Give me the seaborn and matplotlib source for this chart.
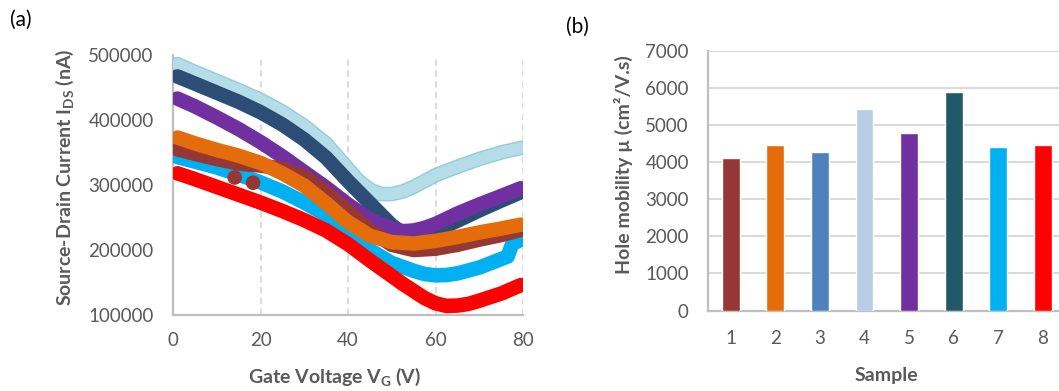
import matplotlib
matplotlib.use("Agg")
import matplotlib.pyplot as plt
import matplotlib.patheffects as pe
import pandas as pd
import seaborn as sns

# ---------------- data ----------------
# (a) transfer curves: gate voltage (V) vs source-drain current (nA)
gate_v = [1, 5, 10, 15, 20, 25, 30, 35, 40, 45, 50, 55, 60, 65, 70, 75, 79.5]

ids_s1 = [355000, 348000, 340000, 333000, 330000, 325000, 313000, 289000, 260000,
          230000, 208000, 200000, 202000, 208000, 216000, 223000, 231000]
ids_s2 = [373000, 364000, 354000, 345000, 334000, 318000, 299000, 272000, 243000,
          222000, 212000, 210000, 214000, 220000, 227000, 233000, 239000]

gate_v_s4 = [1, 5, 10, 15, 20, 25, 30, 35, 40, 42.5, 45, 47.5, 50, 52.5, 55,
             60, 65, 70, 75, 79.5]
ids_s4 = [486000, 474000, 460000, 446000, 431000, 413000, 391000, 364000, 325000,
          306000, 293000, 286000, 286000, 290000, 297000, 315000, 328000,
          340000, 350000, 357000]

gate_v_s56 = [1, 5, 10, 15, 20, 25, 30, 35, 40, 45, 50, 52.5, 55, 57.5, 60,
              65, 70, 75, 79.5]
ids_s5 = [433000, 421000, 404000, 386000, 366000, 344000, 320000, 296000, 270000,
          247000, 233000, 229000, 230000, 234000, 240000, 256000, 270000,
          283000, 295000]
ids_s6 = [467000, 456000, 442000, 428000, 412000, 393000, 370000, 342000, 306000,
          272000, 238000, 226000, 222000, 224000, 230000, 245000, 261000,
          276000, 289000]

gate_v_s7 = [1, 5, 10, 15, 20, 25, 30, 35, 40, 45, 50, 55, 57.5, 60, 62.5, 65,
             70, 76.5, 77.5, 79.5]
ids_s7 = [343000, 336000, 327000, 316000, 304000, 290000, 273000, 254000, 232000,
          200000, 180000, 168000, 163000, 161000, 161500, 164000, 173000,
          190000, 209000, 216000]

gate_v_s8 = [1, 5, 10, 15, 20, 25, 30, 35, 40, 45, 50, 52.5, 55, 57.5, 60, 62.5,
             65, 67.5, 70, 75, 79.5]
ids_s8 = [318000, 309000, 297000, 285000, 273000, 260000, 246000, 230000, 209000,
          184000, 160000, 148000, 137000, 126000, 118000, 114000, 114500,
          117000, 122000, 133000, 146000]

# two stray points of sample 1
stray_v_s1 = [14.1, 18.3]
stray_ids_s1 = [311500, 303500]

# (b) hole mobility per sample
samples = ["1", "2", "3", "4", "5", "6", "7", "8"]
mobility = [4095, 4445, 4260, 5415, 4770, 5875, 4395, 4445]

bar_colors = ["#953735", "#E46C0A", "#4F81BD", "#B9CDE5",
              "#7030A0", "#215968", "#00B0F0", "#FF0000"]

# ---------------- style ----------------
sns.set_style("white")
plt.rcParams["font.family"] = ["Lato", "DejaVu Sans"]
plt.rcParams["mathtext.fontset"] = "custom"
plt.rcParams["mathtext.rm"] = "Lato:bold"
plt.rcParams["mathtext.it"] = "Lato:bold"
plt.rcParams["mathtext.bf"] = "Lato:bold"

TXT = "#595959"
GRID = "#D9D9D9"
SPINE = "#BFBFBF"
W, H = 1059, 391
LW = 10.5

fig = plt.figure(figsize=(W / 100, H / 100), dpi=100)

# ---------------- (a) ----------------
axa = fig.add_axes([173 / W, 1 - 315 / H, 350 / W, 260 / H])

curves = [
    ("4", gate_v_s4, ids_s4, "#B4DDE8"),
    ("6", gate_v_s56, ids_s6, "#2C4D75"),
    ("5", gate_v_s56, ids_s5, "#7030A0"),
    ("7", gate_v_s7, ids_s7, "#00B0F0"),
    ("1", gate_v, ids_s1, "#953735"),
    ("2", gate_v, ids_s2, "#E46C0A"),
    ("8", gate_v_s8, ids_s8, "#FF0000"),
]

for k, (name, v, i, col) in enumerate(curves):
    df = pd.DataFrame({"V": v, "I": i})
    n_before = len(axa.lines)
    sns.lineplot(data=df, x="V", y="I", ax=axa, color=col, linewidth=LW,
                 sort=False, estimator=None, legend=False)
    ln = axa.lines[n_before]
    ln.set_solid_capstyle("round")
    ln.set_solid_joinstyle("round")
    ln.set_zorder(3 + k)
    if name == "4":
        ln.set_linewidth(LW - 2.0)
        ln.set_path_effects([pe.Stroke(linewidth=LW, foreground="#93CCDC"),
                             pe.Normal()])
    if name == "1":
        sns.scatterplot(x=stray_v_s1, y=stray_ids_s1, ax=axa, color=col,
                        s=LW ** 2, edgecolor="none", zorder=3 + k, legend=False)

axa.set_xlim(0, 80)
axa.set_ylim(100000, 500000)
axa.set_xticks([0, 20, 40, 60, 80])
axa.set_yticks([100000, 200000, 300000, 400000, 500000])
axa.set_yticklabels(["100000", "200000", "300000", "400000", "500000"])
for xv in [20, 40, 60, 80]:
    axa.axvline(xv, color=GRID, lw=1.3, ls=(0, (3.5, 2.5)), zorder=1)
for s in ["top", "right"]:
    axa.spines[s].set_visible(False)
for s in ["left", "bottom"]:
    axa.spines[s].set_color(SPINE)
    axa.spines[s].set_linewidth(1.6)
axa.tick_params(axis="both", length=0, labelsize=13.5, labelcolor=TXT)
axa.tick_params(axis="y", pad=14)
axa.tick_params(axis="x", pad=12)
axa.set_xlabel("")
axa.set_ylabel("")

fig.text(65 / W, 1 - 177 / H, r"Source-Drain Current I$_{\mathrm{DS}}$ (nA)",
         rotation=90, ha="center", va="center", fontsize=14,
         fontweight="bold", color=TXT)
fig.text(335 / W, 1 - 377 / H, r"Gate Voltage V$_{\mathrm{G}}$ (V)",
         ha="center", va="center", fontsize=14, fontweight="bold", color=TXT)
fig.text(21 / W, 1 - 20 / H, "(a)", ha="center", va="center",
         fontsize=15, color="black")

# ---------------- (b) ----------------
axb = fig.add_axes([708.3 / W, 1 - 310.5 / H, 357 / W, 260 / H])
dfb = pd.DataFrame({"Sample": samples, "Mobility": mobility})
sns.barplot(data=dfb, x="Sample", y="Mobility", hue="Sample",
            palette=bar_colors, width=0.4, ax=axb, legend=False,
            saturation=1, zorder=3)
axb.set_xlim(-0.5, 7.5)
axb.set_ylim(0, 7000)
axb.set_yticks(range(0, 7001, 1000))
axb.yaxis.grid(True, color=GRID, lw=1.4, zorder=0)
axb.set_axisbelow(True)
for s in ["top", "right"]:
    axb.spines[s].set_visible(False)
for s in ["left", "bottom"]:
    axb.spines[s].set_color(SPINE)
    axb.spines[s].set_linewidth(1.6)
axb.tick_params(axis="both", length=0, labelsize=13.5, labelcolor=TXT)
axb.tick_params(axis="y", pad=14)
axb.tick_params(axis="x", pad=14)
axb.set_xlabel("")
axb.set_ylabel("")

fig.text(623 / W, 1 - 165 / H, "Hole mobility µ (cm²/V.s)",
         rotation=90, ha="center", va="center", fontsize=14,
         fontweight="bold", color=TXT)
fig.text(886 / W, 1 - 376 / H, "Sample", ha="center", va="center",
         fontsize=14, fontweight="bold", color=TXT)
fig.text(577 / W, 1 - 27 / H, "(b)", ha="center", va="center",
         fontsize=15, color="black")

fig.savefig("out.png", dpi=100)
